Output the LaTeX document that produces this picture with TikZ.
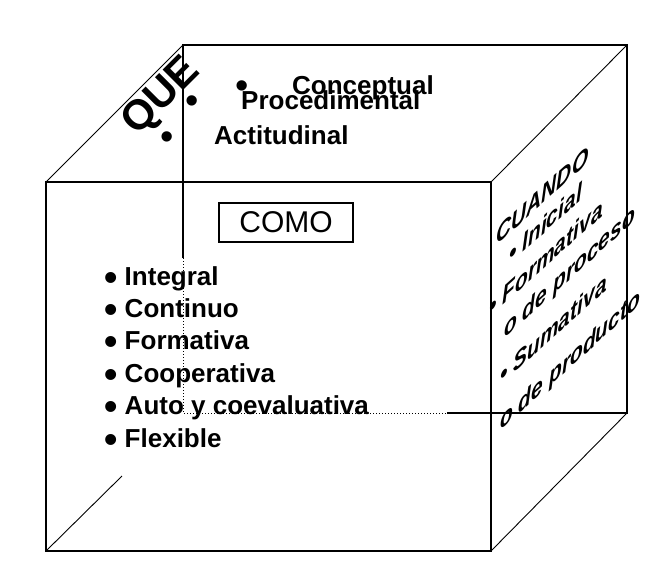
\documentclass[tikz,border=0pt]{standalone}
\usepackage{fontspec}
\setmainfont{Liberation Sans}
\newcommand\vineta{\raisebox{-5pt}{\fontsize{38}{26}\selectfont•}}
\begin{document}
\begin{tikzpicture}[x=1pt,y=-1pt,
    arista/.style={line width=1.5pt},
    diagonal/.style={line width=0.9pt},
    oculta/.style={line width=1pt,dotted},
    lista/.style={anchor=base west,inner sep=0pt,font=\fontsize{26}{26}\selectfont\bfseries},
    punto/.style={inner sep=0pt,font=\fontsize{38}{38}\selectfont},
    cara/.style={anchor=base west,inner sep=0pt,yslant=0.9,yscale=1.2,font=\fontsize{21}{21}\selectfont\bfseries\itshape}]
  \useasboundingbox (0,0) rectangle (671,577);
  % cubo
  \draw[arista] (46,182) rectangle (491,551);
  \draw[arista] (183,258) -- (183,45) -- (627,45) -- (627,413) -- (447,413);
  \draw[oculta] (183,258) -- (183,413) -- (447,413);
  \draw[diagonal] (46,182) -- (183,45);
  \draw[diagonal] (491,182) -- (627,45);
  \draw[diagonal] (491,551) -- (627,413);
  \draw[diagonal] (46,551) -- (122,476);
  % que
  \node[rotate=45,inner sep=0pt,font=\fontsize{42}{42}\selectfont\bfseries] (que) at (162,97) {QUE};
  \node[punto] (p1) at (242,90) {•};
  \node[punto] (p2) at (192,105) {•};
  \node[punto] (p3) at (167,141) {•};
  \node[lista] (conceptual) at (292,95) {Conceptual};
  \node[lista] (procedimental) at (241,110) {Procedimental};
  \node[lista] (actitudinal) at (214,145) {Actitudinal};
  % como
  \node[draw,line width=1.2pt,minimum width=134pt,minimum height=39pt,inner sep=0pt,
        font=\fontsize{30}{30}\selectfont] (como) at (286,222.5) {COMO};
  \foreach \txt [count=\i from 0] in {Integral,Continuo,Formativa,Cooperativa,Auto y coevaluativa,Flexible}
    \node[lista] (item\i) at (104,{285+32.4*\i}) {\vineta\ \txt};
  % cuando
  \node[cara] (cuando) at (496,246) {CUANDO};
  \node[cara] (inicial) at (509,265) {• Inicial};
  \node[cara] (formativa) at (489,318) {• Formativa};
  \node[cara] (proceso) at (504,339) {o de proceso};
  \node[cara] (sumativa) at (500,386) {• Sumativa};
  \node[cara] (producto) at (500,431) {o de producto};
\end{tikzpicture}
\end{document}
